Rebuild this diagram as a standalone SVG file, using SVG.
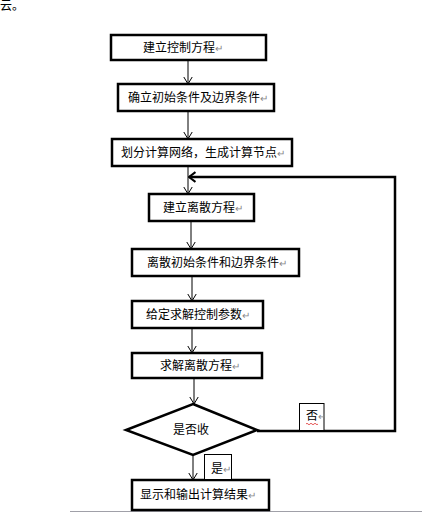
<svg xmlns="http://www.w3.org/2000/svg" width="422" height="516" viewBox="0 0 422 516">
<defs>
<style>
.box{fill:#fff;stroke:#000;stroke-width:2.5}
.lbl{fill:#fff;stroke:#000;stroke-width:1}
.t{font-family:"Liberation Sans","Noto Sans CJK SC",sans-serif;font-size:12px;fill:#000}
.pm{fill:#888;font-size:10px}
.c{fill:none;stroke:#000;stroke-width:1}
.cb{fill:none;stroke:#000;stroke-width:2.5}
</style>
<marker id="ah" markerUnits="userSpaceOnUse" viewBox="0 0 8 10" refX="7.5" refY="5" markerWidth="8" markerHeight="10" orient="auto">
<path d="M0,0.5 L7.5,5 L0,9.5" fill="none" stroke="#000" stroke-width="1"/>
</marker>
<marker id="ahb" markerUnits="userSpaceOnUse" viewBox="0 0 8 12" refX="7" refY="6" markerWidth="8" markerHeight="12" orient="auto">
<path d="M0.5,1 L7,6 L0.5,11" fill="none" stroke="#000" stroke-width="2.2"/>
</marker>
</defs>
<rect width="422" height="516" fill="#fff"/>
<text class="t" x="0" y="10" font-size="10">云。</text>
<g id="connectors">
<line class="c" x1="188" y1="60" x2="188" y2="84" marker-end="url(#ah)"/>
<line class="c" x1="188" y1="111" x2="188" y2="139" marker-end="url(#ah)"/>
<line class="c" x1="188" y1="166" x2="188" y2="194" marker-end="url(#ah)"/>
<line class="c" x1="191" y1="221" x2="191" y2="249" marker-end="url(#ah)"/>
<line class="c" x1="192" y1="276" x2="192" y2="301" marker-end="url(#ah)"/>
<line class="c" x1="192" y1="328" x2="192" y2="353" marker-end="url(#ah)"/>
<line class="c" x1="194" y1="378" x2="194" y2="404" marker-end="url(#ah)"/>
<line class="c" x1="193" y1="455" x2="193" y2="480" marker-end="url(#ah)"/>
<polyline class="cb" points="257,431 395,431 395,177 189,177" marker-end="url(#ahb)"/>
<line x1="70" y1="511.5" x2="422" y2="511.5" stroke="#a0a0a8" stroke-width="1"/>
</g>
<g id="n1"><rect class="box" x="111" y="35" width="155" height="25"/><text class="t" x="143" y="52">建立控制方程<tspan class="pm">↵</tspan></text></g>
<g id="n2"><rect class="box" x="118" y="84" width="156" height="27"/><text class="t" x="128" y="102">确立初始条件及边界条件<tspan class="pm">↵</tspan></text></g>
<g id="n3"><rect class="box" x="112" y="139" width="180" height="27"/><text class="t" x="121" y="157">划分计算网络，生成计算节点<tspan class="pm">↵</tspan></text></g>
<g id="n4"><rect class="box" x="149" y="194" width="105" height="27"/><text class="t" x="163" y="212">建立离散方程<tspan class="pm">↵</tspan></text></g>
<g id="n5"><rect class="box" x="132" y="249" width="167" height="27"/><text class="t" x="147" y="267">离散初始条件和边界条件<tspan class="pm">↵</tspan></text></g>
<g id="n6"><rect class="box" x="132" y="301" width="131" height="27"/><text class="t" x="146" y="319">给定求解控制参数<tspan class="pm">↵</tspan></text></g>
<g id="n7"><rect class="box" x="132" y="353" width="130" height="25"/><text class="t" x="160" y="370">求解离散方程<tspan class="pm">↵</tspan></text></g>
<g id="n8"><polygon class="box" points="193,404 257,430 193,455 126,430"/><text class="t" x="173" y="434">是否收</text></g>
<g id="n9"><rect class="box" x="132" y="480" width="137" height="30"/><text class="t" x="140" y="499">显示和输出计算结果<tspan class="pm">↵</tspan></text></g>
<g id="lblNo"><rect class="lbl" x="299.5" y="403.5" width="24.5" height="27"/><text class="t" x="306" y="420">否<tspan class="pm">↵</tspan></text><path d="M306,424 q1,-1.5 2,0 t2,0 t2,0 t2,0 t2,0 t2,0" fill="none" stroke="#e03030" stroke-width="0.8"/></g>
<g id="lblYes"><rect class="lbl" x="204.5" y="454.5" width="27" height="25"/><text class="t" x="211" y="473">是<tspan class="pm">↵</tspan></text></g>
</svg>
